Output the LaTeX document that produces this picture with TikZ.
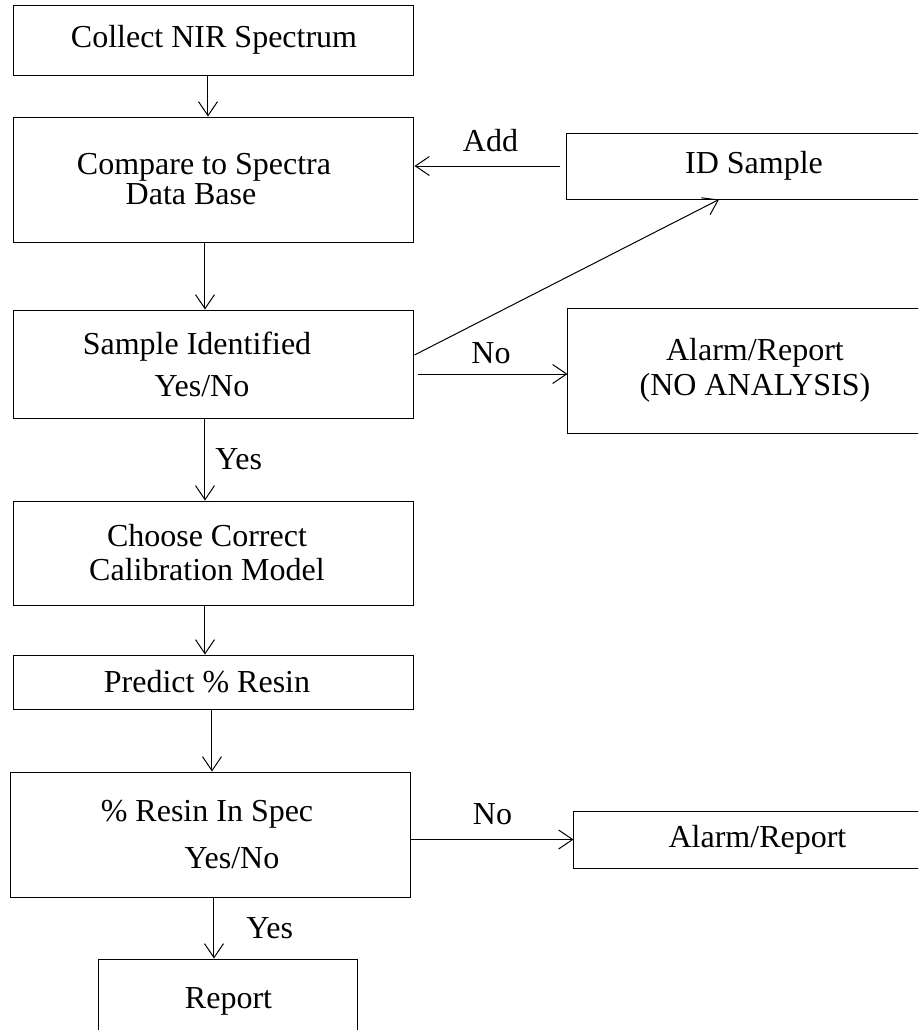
\documentclass[tikz,border=0pt]{standalone}
\usepackage{fontspec}
\setmainfont{Liberation Serif}
\usetikzlibrary{positioning,arrows.meta}

\begin{document}
\begin{tikzpicture}[
    >={Straight Barb[length=7pt,width=9.5pt]},
    line width=0.5pt,
    every node/.style={font=\fontsize{16}{17}\selectfont},
    box/.style={draw, align=center, minimum width=200pt, inner sep=0pt},
    lbl/.style={inner sep=0pt},
]
    \useasboundingbox (-107pt,20pt) rectangle (352pt,-495pt);
    \clip (-107pt,20pt) rectangle (352pt,-495pt);

    \node[box, minimum height=35pt] (1) {Collect NIR Spectrum};
    \node[box, minimum height=62.5pt, below=20.5pt of 1] (2) {Compare to Spectra\hspace*{10pt}\\[-2pt]Data Base\hspace*{23pt}};
    \node[box, minimum height=54pt, below=33.5pt of 2] (3) {Sample Identified\hspace*{17pt}\\[4pt]Yes/No\hspace*{12pt}};
    \node[box, minimum height=52pt, below=41pt of 3] (4) {Choose Correct\hspace*{7pt}\\Calibration Model\hspace*{7pt}};
    \node[box, minimum height=27pt, below=24.5pt of 4] (5) {Predict \% Resin\hspace*{7pt}};
    \node[box, minimum height=62.5pt, below=31pt of 5, xshift=-1.5pt] (6) {\% Resin In Spec\hspace*{4pt}\\[6.5pt]\hspace*{21pt}Yes/No};
    \node[box, minimum width=129.5pt, minimum height=42pt, below=30.5pt of 6, xshift=8.75pt] (7) {Report};
    \node[box, minimum width=187pt, minimum height=33pt, right=76pt of 2, yshift=6.75pt] (8) {ID Sample};
    \node[box, minimum width=187pt, minimum height=62.5pt, right=76.5pt of 3, yshift=-3.25pt] (9) {Alarm/Report\\[0.5pt](NO ANALYSIS)};
    \node[box, minimum width=183.5pt, minimum height=28.5pt, right=81pt of 6, yshift=-2.5pt] (10) {Alarm/Report};

    \path[->]
    ([xshift=-3pt]1.south) edge ([xshift=-3pt]1.south |- 2.north)
    ([xshift=-4.5pt]2.south) edge ([xshift=-4.5pt]2.south |- 3.north)
    ([xshift=-4.5pt]3.south) edge node[lbl, midway, right=5pt] {Yes} ([xshift=-4.5pt]3.south |- 4.north)
    ([xshift=-4.5pt]4.south) edge ([xshift=-4.5pt]4.south |- 5.north)
    ([xshift=-1pt]5.south) edge ([xshift=-1pt]5.south |- 6.north)
    ([xshift=1.5pt]6.south) edge node[lbl, midway, right=16pt] {Yes} ([xshift=1.5pt]6.south |- 7.north)
    (8.west) edge[shorten <=3pt] node[lbl, midway, above=7pt] {Add} (8.west -| 2.east)
    ([yshift=4.5pt]3.east) edge ([xshift=-17.5pt]8.south)
    ([yshift=-5pt]3.east) edge[shorten <=2pt] node[lbl, midway, above=5pt] {No} ([yshift=-5pt]3.east -| 9.west)
    (10.west -| 6.east) edge node[lbl, midway, above=7pt] {No} (10.west)
;

\end{tikzpicture}
\end{document}
